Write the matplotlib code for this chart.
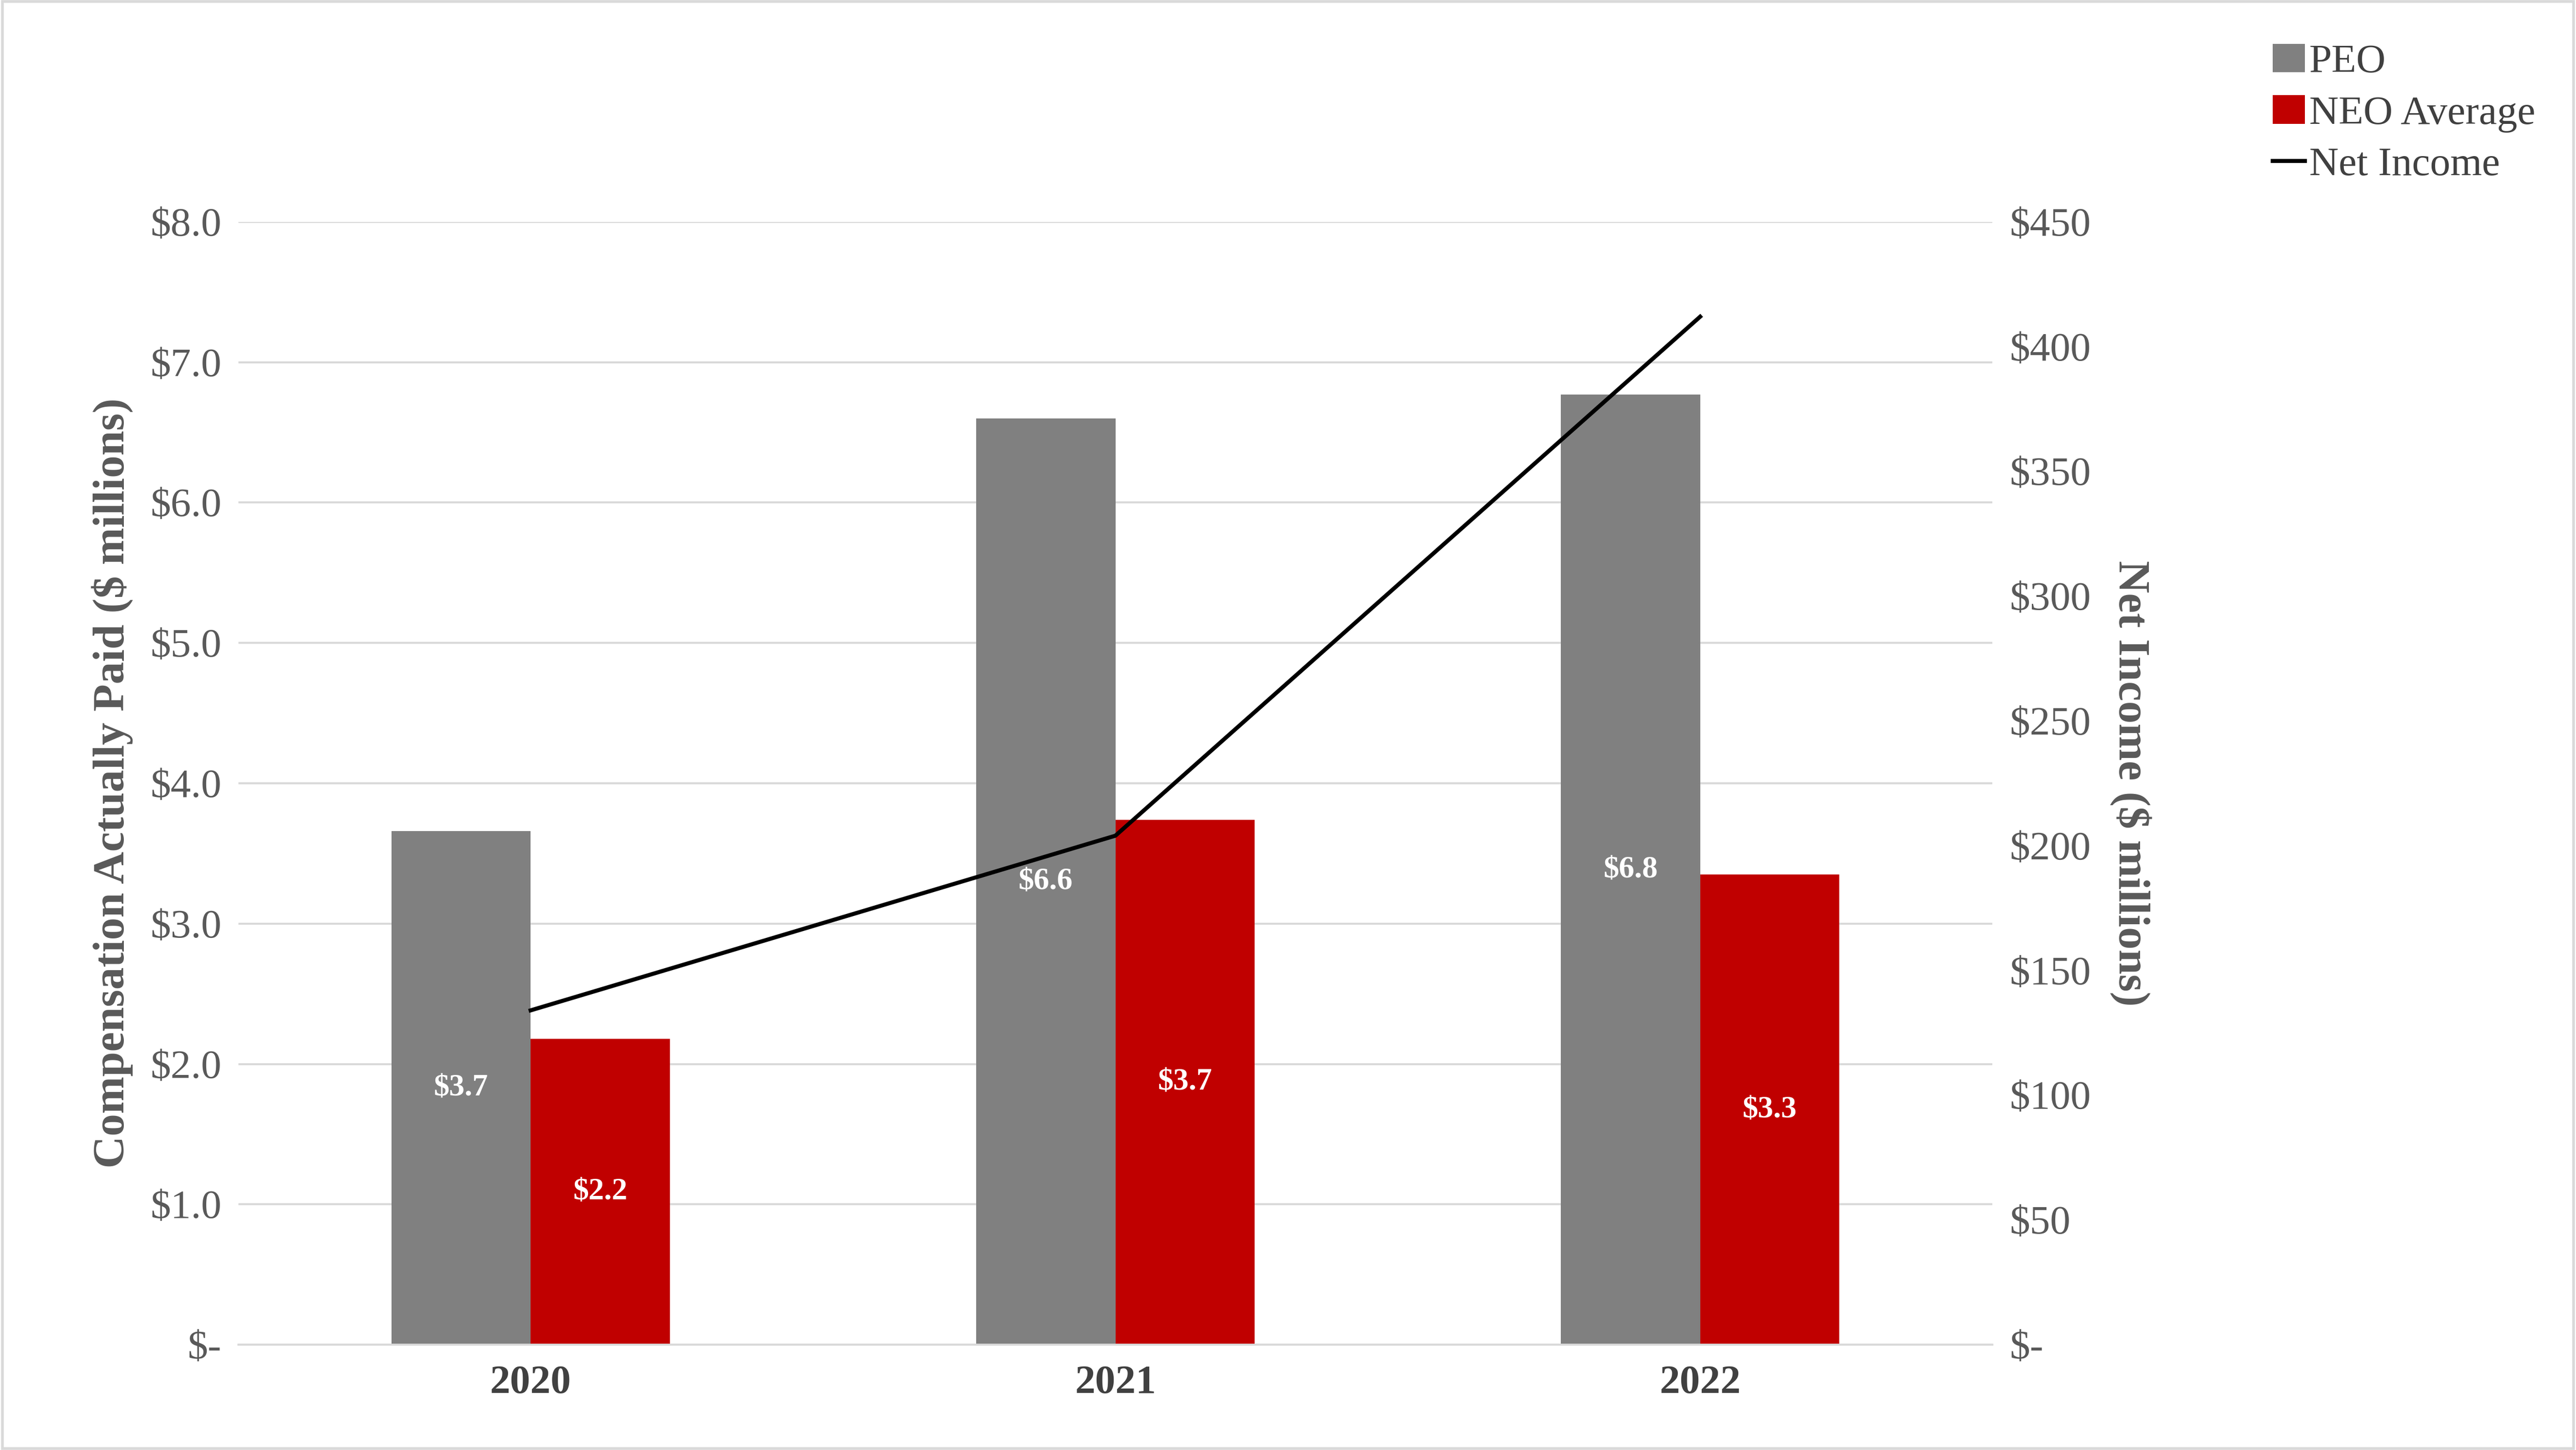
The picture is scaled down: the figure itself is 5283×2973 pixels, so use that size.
import numpy as np
import matplotlib.pyplot as plt
from matplotlib.patches import Rectangle

plt.rcParams['font.family'] = 'Liberation Serif'

years = ['2020', '2021', '2022']
peo = [3.66, 6.60, 6.77]
neo = [2.18, 3.74, 3.35]
peo_labels = ['$3.7', '$6.6', '$6.8']
neo_labels = ['$2.2', '$3.7', '$3.3']
net_income = [134, 204, 412]

fig = plt.figure(figsize=(52.83, 29.73), dpi=100)
ax = fig.add_axes([0.0925, 0.0726, 0.681, 0.7744])
ax2 = ax.twinx()

x = np.arange(len(years))
w = 0.238
b1 = ax.bar(x - w / 2, peo, w, color='#808080', label='PEO', zorder=2)
b2 = ax.bar(x + w / 2, neo, w, color='#C00000', label='NEO Average', zorder=2)
for bars, labs in ((b1, peo_labels), (b2, neo_labels)):
    for r, t in zip(bars, labs):
        ax.text(r.get_x() + r.get_width() / 2, r.get_height() / 2, t, ha='center', va='center',
                color='white', fontsize=46, fontweight='bold', zorder=3)

ln, = ax2.plot(x, net_income, color='black', lw=6, label='Net Income')

ax.set_xlim(-0.5, 2.5)
ax.set_ylim(0, 8)
ax2.set_ylim(0, 450)
ax.set_yticks(np.arange(0, 9, 1))
ax.set_yticklabels(['$-'] + ['$%.1f' % v for v in range(1, 9)])
ax2.set_yticks(np.arange(0, 451, 50))
ax2.set_yticklabels(['$-'] + ['$%d' % v for v in range(50, 451, 50)])
ax.set_xticks(x)
ax.set_xticklabels(years, fontweight='bold', fontsize=56)
ax.grid(axis='y', color='#D9D9D9', lw=3, zorder=0)
ax.set_axisbelow(True)
for a in (ax, ax2):
    for s in a.spines.values():
        s.set_visible(False)
    a.tick_params(length=0, labelsize=60, colors='#595959', pad=25)
ax.tick_params(axis='x', colors='#404040', pad=30)
ax.spines['bottom'].set_visible(True)
ax.spines['bottom'].set_color('#D9D9D9')
ax.spines['bottom'].set_linewidth(3)

ax.set_ylabel('Compensation Actually Paid ($ millions)', fontsize=66, fontweight='bold',
              color='#595959', labelpad=25)
ax2.set_ylabel('Net Income ($ millions)', fontsize=66, fontweight='bold', color='#595959',
               rotation=270, labelpad=90)

fig.legend(handles=[b1, b2, ln], loc='upper left', bbox_to_anchor=(0.868, 0.995),
           frameon=False, fontsize=60, labelcolor='#404040', handlelength=0.8,
           handletextpad=0.1, labelspacing=0.35)

fig.patches.append(Rectangle((0.001, 0.001), 0.998, 0.998, transform=fig.transFigure,
                             fill=False, edgecolor='#D9D9D9', lw=4))
fig.savefig('out.png', dpi=100)
